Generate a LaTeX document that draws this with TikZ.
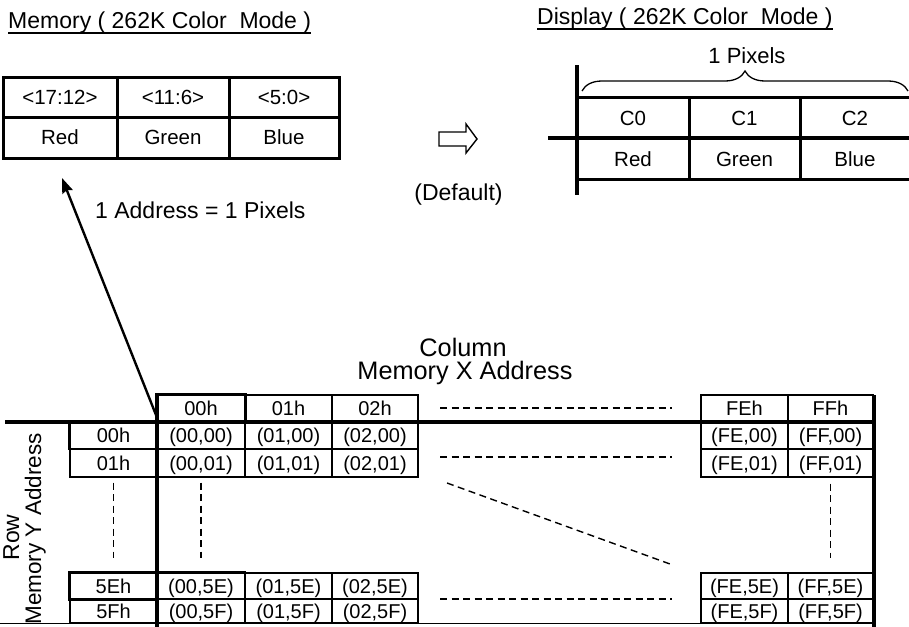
\documentclass[tikz,border=0pt]{standalone}
\usepackage{fontspec}
\setmainfont{Liberation Sans}
\usetikzlibrary{arrows.meta,decorations.pathreplacing}
\begin{document}
\begin{tikzpicture}[x=1pt,y=-1pt,
  cell/.style={draw, line width=1.2pt, inner sep=0pt, text height=14.4pt, text depth=0pt, font=\fontsize{20}{24}\selectfont},
  mcell/.style={draw, line width=3pt, inner sep=0pt, text height=14.7pt, text depth=0pt, font=\fontsize{20.5}{24}\selectfont},
  dtext/.style={inner sep=0pt, text height=14.7pt, text depth=0pt, font=\fontsize{20.5}{24}\selectfont},
  title/.style={inner sep=0pt, font=\fontsize{23}{27}\selectfont},
  big/.style={inner sep=0pt, font=\fontsize{25.3}{30}\selectfont},
  thickline/.style={line width=4pt},
  hl/.style={line width=2.6pt},
  dashline/.style={line width=1.4pt, dash pattern=on 7pt off 4.5pt}
]
\useasboundingbox (0,0) rectangle (909,626);

% ---------- titles ----------
\node[title, anchor=base west] (memtitle) at (8,29) {Memory ( 262K Color\ \ Mode )};
\draw[line width=1.1pt] ([yshift=-4pt]memtitle.base west) -- ([yshift=-4pt]memtitle.base east);
\node[title, anchor=base west] (distitle) at (537,25) {Display ( 262K Color\ \ Mode )};
\draw[line width=1.1pt] ([yshift=-4pt]distitle.base west) -- ([yshift=-4pt]distitle.base east);

% ---------- memory table ----------
\node[mcell, minimum width=114pt, minimum height=40pt] (mb1) at (60,97) {<17:12>};
\node[mcell, minimum width=112pt, minimum height=40pt] (mb2) at (173,97) {<11:6>};
\node[mcell, minimum width=110pt, minimum height=40pt] (mb3) at (284,97) {<5:0>};
\node[mcell, minimum width=114pt, minimum height=41pt] (mr) at (60,137.5) {Red};
\node[mcell, minimum width=112pt, minimum height=41pt] (mg) at (173,137.5) {Green};
\node[mcell, minimum width=110pt, minimum height=41pt] (mbl) at (284,137.5) {Blue};

% ---------- hollow arrow and default ----------
\draw[line width=1.4pt, line join=miter] (439,132) -- (466,132) -- (466,124) -- (477,139) -- (466,153) -- (466,146) -- (439,146) -- cycle;
\node[title] (default) at (458.5,195) {(Default)};

% ---------- display ----------
\draw[thickline] (577,65) -- (577,195);
\draw[line width=3pt] (577,97) -- (912,97);
\draw[thickline] (548,138) -- (912,138);
\draw[line width=3pt] (577,179) -- (912,179);
\draw[line width=3pt] (689,97) -- (689,179);
\draw[line width=3pt] (800,97) -- (800,179);
\node[dtext] (c0) at (633,118) {C0};
\node[dtext] (c1) at (744.5,118) {C1};
\node[dtext] (c2) at (855,118) {C2};
\node[dtext] (dr) at (633,159) {Red};
\node[dtext] (dg) at (744.5,159) {Green};
\node[dtext] (db) at (855,159) {Blue};
\draw[line width=1.3pt, decorate, decoration={brace, amplitude=20pt}] (582,91) -- (908,91);
\node[title, font=\fontsize{22}{26}\selectfont] (onepix) at (747,56) {1 Pixels};

% ---------- column / row labels ----------
\node[big] (colA) at (463,347) {Column};
\node[big] (colB) at (465,373) {Memory X Address};
\node[inner sep=0pt, rotate=90, anchor=base, font=\fontsize{23}{28}\selectfont] (rowA) at (19,537.5) {Row};
\node[inner sep=0pt, rotate=90, anchor=base, font=\fontsize{22.5}{27}\selectfont] (rowB) at (41,529) {Memory Y Address};

% ---------- header row ----------
\node[cell, minimum width=88pt, minimum height=27pt] (h00) at (201,408.5) {00h};
\node[cell, minimum width=87pt, minimum height=27pt] (h01) at (288.5,408.5) {01h};
\node[cell, minimum width=86pt, minimum height=27pt] (h02) at (375,408.5) {02h};
\node[cell, minimum width=87pt, minimum height=27pt] (hFE) at (744.5,408.5) {FEh};
\node[cell, minimum width=85pt, minimum height=27pt] (hFF) at (830.5,408.5) {FFh};

% ---------- row headers ----------
\node[cell, minimum width=87pt, minimum height=27pt] (r00) at (113.5,435.5) {00h};
\node[cell, minimum width=87pt, minimum height=28pt] (r01) at (113.5,463) {01h};
\node[cell, minimum width=87pt, minimum height=26pt] (r5E) at (113.5,586) {5Eh};
\node[cell, minimum width=87pt, minimum height=24pt] (r5F) at (113.5,611) {5Fh};

% ---------- data cells ----------
\foreach \cx/\cw/\cn in {201/88/00, 288.5/87/01, 375/86/02, 744.5/87/FE, 830.5/85/FF}{
  \foreach \ry/\rh/\rn in {435.5/27/00, 463/28/01, 586/26/5E, 611/24/5F}{
    \node[cell, minimum width=\cw pt, minimum height=\rh pt] (d\cn\rn) at (\cx,\ry) {(\cn,\rn)};
  }
}

% ---------- highlights ----------
\draw[hl] (h00.south west) -- (h00.north west) -- (h00.north east) -- (h00.south east);
\draw[hl] (r00.north west) -- (r00.south west);
\draw[hl] (r5E.south east) -- (r5E.south west) -- (r5E.north west) -- (d005E.north east);

% ---------- main lines ----------
\coordinate (hl0) at (5,422);
\coordinate (hl1) at (876,422);
\coordinate (vl0) at (157,395);
\coordinate (vl1) at (157,628);
\coordinate (vr0) at (874,395);
\coordinate (vr1) at (874,628);
\coordinate (bl0) at (0,623.5);
\coordinate (bl1) at (875,623.5);
\draw[line width=1.2pt] (bl0) -- (bl1);
\draw[thickline] (hl0) -- (hl1);
\draw[thickline] (vl0) -- (vl1);
\draw[line width=3.5pt] (vr0) -- (vr1);

% ---------- dashed ----------
\draw[dashline] (440,408) -- (672,408);
\draw[dashline] (440,457) -- (672,457);
\draw[dashline] (440,599) -- (672,599);
\draw[dashline] (447,483) -- (670,564);
\draw[dashline] (r01.south) ++(0,5) -- (r5E.north |- 0,558);
\draw[dashline] (d0001.south) ++(0,5) -- (d0001.south |- 0,558);
\draw[dashline] (dFF01.south) ++(0,6) -- (dFF01.south |- 0,558);

% ---------- pointer arrow ----------
\coordinate (corner) at (158,420);
\coordinate (tip) at (62,178);
\draw[line width=2.4pt, -{Stealth[length=15pt,width=11pt,inset=2pt]}] (corner) -- (tip);
\node[title, anchor=west] (addr) at (95,210) {1 Address = 1 Pixels};
\end{tikzpicture}
\end{document}
